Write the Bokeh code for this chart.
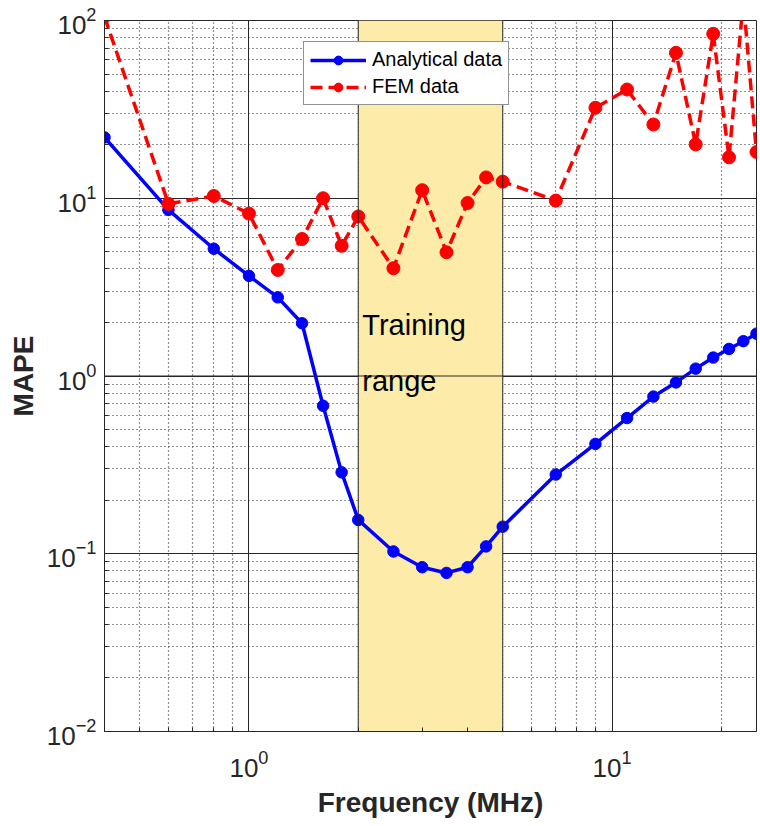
from bokeh.plotting import figure
from bokeh.models import (FixedTicker, Legend, LegendItem, Span, Label, Range1d)
from bokeh.core.properties import value
from bokeh.embed import file_html
from bokeh.resources import INLINE

# ---- data ----
freq = [0.4, 0.6, 0.8, 1.0, 1.2, 1.4, 1.6, 1.8, 2.0, 2.5, 3.0, 3.5, 4.0, 4.5, 5.0,
        7, 9, 11, 13, 15, 17, 19, 21, 23, 25]
analytical = [22, 8.6, 5.2, 3.66, 2.77, 1.98, 0.68, 0.287, 0.155, 0.103, 0.084, 0.078,
              0.084, 0.110, 0.142, 0.279, 0.415, 0.58, 0.766, 0.92, 1.10, 1.27, 1.42,
              1.57, 1.73]
fem = [105, 9.3, 10.3, 8.2, 3.95, 5.9, 10.0, 5.4, 7.9, 4.04, 11.1, 4.97, 9.4, 13.1,
       12.4, 9.7, 32.3, 40.9, 26.0, 65.8, 20.1, 84.1, 17.0, 130, 18.2]

train_lo = [2.0]
train_hi = [5.0]
train_text = ["Training", "range"]
train_text_y = [1.94, 0.94]

x_lim = (0.4, 25)
y_lim = (0.01, 100)
x_major = [1, 10]
x_minor = [0.4, 0.5, 0.6, 0.7, 0.8, 0.9, 2, 3, 4, 5, 6, 7, 8, 9, 20]
y_major = [0.01, 0.1, 1, 10, 100]
y_minor = [m * d for d in [0.01, 0.1, 1, 10] for m in range(2, 10)]

FONT = "Liberation Sans"
DARK = "#262626"

p = figure(frame_width=652, frame_height=711,
           x_axis_type="log", y_axis_type="log",
           x_range=Range1d(*x_lim), y_range=Range1d(*y_lim),
           output_backend="svg", toolbar_location=None,
           min_border_left=104, min_border_right=2, min_border_top=20,
           min_border_bottom=87)
p.background_fill_color = "white"
p.border_fill_color = "white"
p.outline_line_color = DARK
p.outline_line_width = 1

xt = FixedTicker(ticks=x_major, minor_ticks=x_minor)
yt = FixedTicker(ticks=y_major, minor_ticks=y_minor)
p.xaxis.ticker = xt
p.yaxis.ticker = yt
p.xgrid.ticker = xt
p.ygrid.ticker = yt

for g in (p.xgrid, p.ygrid):
    g.grid_line_color = DARK
    g.grid_line_width = 1
    g.minor_grid_line_color = "#262626"
    g.minor_grid_line_dash = "1 3"
    g.minor_grid_line_width = 1.2

for ax in (p.xaxis, p.yaxis):
    ax.axis_line_color = DARK
    ax.major_tick_line_color = DARK
    ax.minor_tick_line_color = DARK
    ax.major_tick_in = 8
    ax.major_tick_out = 0
    ax.minor_tick_in = 4
    ax.minor_tick_out = 0
    ax.major_label_text_font = FONT
    ax.major_label_text_font_size = "26px"
    ax.major_label_text_color = "#262626"
    ax.axis_label_text_font = FONT
    ax.axis_label_text_font_style = "bold"
    ax.axis_label_text_font_size = "28px"
    ax.axis_label_text_color = "#262626"

p.xaxis.axis_label = "Frequency (MHz)"
p.yaxis.axis_label = "MAPE"
p.xaxis.major_label_standoff = 18
p.xaxis.axis_label_standoff = 7
p.yaxis.major_label_standoff = 8
p.yaxis.axis_label_standoff = 5

# training-range shading
p.quad(left=train_lo, right=train_hi, bottom=[y_lim[0]], top=[y_lim[1]],
       fill_color="#FDEBA9", line_color=None)
p.add_layout(Span(location=1, dimension="width", line_color=DARK, line_width=1))

for t, ty in zip(train_text, train_text_y):
    p.add_layout(Label(x=train_lo[0], y=ty, text=t, x_offset=4,
                       text_font=FONT, text_font_size="29px", text_color="black",
                       text_baseline="alphabetic"))

l1 = p.line(freq, analytical, line_color="#0000FF", line_width=3.5)
s1 = p.scatter(freq, analytical, size=11.5, fill_color="#0000FF", line_color="#0000FF")
l2 = p.line(freq, fem, line_color="#FF0000", line_width=3.5, line_dash="12 6")
s2 = p.scatter(freq, fem, size=13, fill_color="#FF0000", line_color="#FF0000")

legend = Legend(items=[LegendItem(label="Analytical data", renderers=[l1, s1]),
                       LegendItem(label="FEM data", renderers=[l2, s2])],
                location=(199, 626))
legend.label_text_font = FONT
legend.label_text_font_size = "20px"
legend.label_text_color = "black"
legend.glyph_width = 56
legend.glyph_height = 22
legend.label_height = 22
legend.label_standoff = 6
legend.spacing = 4
legend.padding = 6
legend.margin = 0
legend.border_line_color = DARK
legend.border_line_width = 1
legend.background_fill_color = "white"
legend.background_fill_alpha = 1
p.add_layout(legend, "center")

for loc in (train_lo[0], train_hi[0]):
    p.add_layout(Span(location=loc, dimension="height", line_color=DARK,
                      line_width=1, level="overlay"))

open("out.html", "w").write(file_html(p, INLINE))
